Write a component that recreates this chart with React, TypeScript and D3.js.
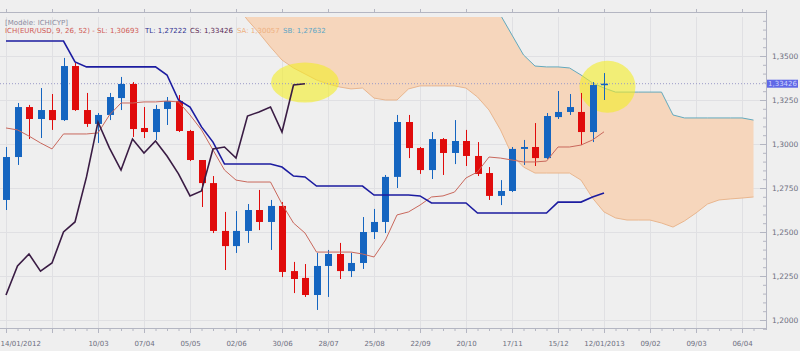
import { useEffect, useRef } from 'react';
import * as d3 from 'd3';

// Weekly EUR/USD candles, 14/01/2012 -> 12/01/2013
const opens = [1.2682, 1.2926, 1.3210, 1.3142, 1.3193, 1.3136, 1.3443, 1.3193, 1.3114, 1.3165, 1.3261, 1.3341, 1.3091, 1.3068, 1.3199, 1.3244, 1.3074, 1.2909, 1.2778, 1.2506, 1.2420, 1.2506, 1.2625, 1.2557, 1.2648, 1.2278, 1.2239, 1.2142, 1.2307, 1.2375, 1.2278, 1.2324, 1.2500, 1.2557, 1.2813, 1.3125, 1.2977, 1.2852, 1.3028, 1.2949, 1.3017, 1.2932, 1.2835, 1.2705, 1.2733, 1.2972, 1.2983, 1.2920, 1.3153, 1.3182, 1.3182, 1.3068, 1.3335];
const highs = [1.2983, 1.3233, 1.3222, 1.3318, 1.3284, 1.3489, 1.3460, 1.3290, 1.3176, 1.3290, 1.3381, 1.3352, 1.3210, 1.3222, 1.3267, 1.3278, 1.3080, 1.2909, 1.2818, 1.2614, 1.2619, 1.2659, 1.2739, 1.2682, 1.2670, 1.2330, 1.2318, 1.2381, 1.2398, 1.2438, 1.2381, 1.2585, 1.2631, 1.2824, 1.3165, 1.3165, 1.2983, 1.3068, 1.3034, 1.3136, 1.3080, 1.3011, 1.2869, 1.2795, 1.2983, 1.3023, 1.3119, 1.3176, 1.3301, 1.3284, 1.3290, 1.3352, 1.3403];
const lows = [1.2625, 1.2881, 1.3028, 1.3034, 1.3080, 1.3131, 1.3188, 1.3097, 1.3006, 1.3136, 1.3193, 1.3040, 1.3034, 1.3023, 1.3108, 1.3068, 1.2903, 1.2642, 1.2494, 1.2284, 1.2381, 1.2438, 1.2511, 1.2398, 1.2244, 1.2153, 1.2131, 1.2057, 1.2131, 1.2233, 1.2244, 1.2290, 1.2460, 1.2494, 1.2750, 1.2920, 1.2830, 1.2801, 1.2824, 1.2886, 1.2875, 1.2818, 1.2682, 1.2653, 1.2727, 1.2881, 1.2875, 1.2915, 1.3142, 1.3165, 1.2994, 1.3011, 1.3250];
const closes = [1.2926, 1.3210, 1.3142, 1.3193, 1.3136, 1.3443, 1.3193, 1.3114, 1.3165, 1.3267, 1.3341, 1.3085, 1.3068, 1.3199, 1.3244, 1.3074, 1.2909, 1.2778, 1.2506, 1.2420, 1.2506, 1.2625, 1.2557, 1.2648, 1.2273, 1.2233, 1.2142, 1.2307, 1.2375, 1.2278, 1.2324, 1.2500, 1.2557, 1.2813, 1.3125, 1.2977, 1.2852, 1.3028, 1.2949, 1.3017, 1.2932, 1.2830, 1.2705, 1.2733, 1.2972, 1.2983, 1.2920, 1.3159, 1.3182, 1.3210, 1.3068, 1.3335, 1.33426];

// Ichimoku lines
const tenkan = [1.3091, 1.3080, 1.3045, 1.3006, 1.2972, 1.3057, 1.3057, 1.3057, 1.3063, 1.3165, 1.3233, 1.3233, 1.3239, 1.3239, 1.3244, 1.3239, 1.3165, 1.3080, 1.2966, 1.2852, 1.2795, 1.2784, 1.2784, 1.2784, 1.2659, 1.2551, 1.2494, 1.2386, 1.2386, 1.2386, 1.2386, 1.2375, 1.2358, 1.2455, 1.2597, 1.2614, 1.2653, 1.2699, 1.2705, 1.2727, 1.2807, 1.2841, 1.2926, 1.2920, 1.2909, 1.2898, 1.2898, 1.2903, 1.2983, 1.2983, 1.2994, 1.3023, 1.30693];
const kijun = [1.3585, 1.3585, 1.3585, 1.3585, 1.3585, 1.3585, 1.3466, 1.3438, 1.3438, 1.3438, 1.3438, 1.3438, 1.3438, 1.3438, 1.3392, 1.3250, 1.3210, 1.3097, 1.3011, 1.2886, 1.2886, 1.2886, 1.2886, 1.2886, 1.2869, 1.2818, 1.2813, 1.2761, 1.2761, 1.2761, 1.2761, 1.2761, 1.2710, 1.2710, 1.2710, 1.2710, 1.2705, 1.2665, 1.2665, 1.2665, 1.2665, 1.2608, 1.2608, 1.2608, 1.2608, 1.2608, 1.2608, 1.2608, 1.2670, 1.2670, 1.2670, 1.2699, 1.27222];
const chikouShift = 26;

// cloud, from week 19 to week 65 (already shifted forward)
const cloudStart = 19;
const senkouA = [1.3847, 1.3790, 1.3705, 1.3631, 1.3551, 1.3477, 1.3432, 1.3398, 1.3364, 1.3341, 1.3324, 1.3313, 1.3318, 1.3261, 1.3250, 1.3250, 1.3313, 1.3330, 1.3330, 1.3330, 1.3330, 1.3318, 1.3267, 1.3193, 1.3080, 1.2938, 1.2869, 1.2835, 1.2835, 1.2835, 1.2835, 1.2795, 1.2693, 1.2614, 1.2580, 1.2568, 1.2568, 1.2568, 1.2551, 1.2528, 1.2563, 1.2608, 1.2659, 1.2682, 1.2688, 1.2693, 1.2699];
const senkouB = [1.3950, 1.3950, 1.3950, 1.3950, 1.3950, 1.3950, 1.3950, 1.3950, 1.3950, 1.3950, 1.3950, 1.3950, 1.3950, 1.3950, 1.3950, 1.3950, 1.3950, 1.3950, 1.3950, 1.3950, 1.3950, 1.3950, 1.3950, 1.3950, 1.3733, 1.3619, 1.3506, 1.3443, 1.3438, 1.3438, 1.3432, 1.3392, 1.3347, 1.3318, 1.3295, 1.3295, 1.3295, 1.3295, 1.3295, 1.3165, 1.3148, 1.3148, 1.3148, 1.3148, 1.3148, 1.3148, 1.3136];

const xTickLabels = ['14/01/2012', '', '10/03', '07/04', '05/05', '02/06', '30/06', '28/07', '25/08', '22/09', '20/10', '17/11', '15/12', '12/01/2013', '09/02', '09/03', '06/04'];
const yTicks = [1.2, 1.225, 1.25, 1.275, 1.3, 1.325, 1.35];
const lastPrice = 1.33426;

const legendRow = [
  { text: 'ICH(EUR/USD, 9, 26, 52) - SL: 1,30693', color: '#d05a55' },
  { text: 'TL: 1,27222', color: '#30308f' },
  { text: 'CS: 1,33426', color: '#5a2a55' },
  { text: 'SA: 1,30057', color: '#eeb080' },
  { text: 'SB: 1,27632', color: '#5aa5c5' },
];

const highlights = [
  { week: 26, price: 1.3350, rx: 34, ry: 20 },
  { week: 52.3, price: 1.3325, rx: 28, ry: 26 },
];

const weekDate = (i: number) => new Date(Date.UTC(2012, 0, 14) + i * 7 * 864e5);

const App = () => {
  const svgRef = useRef<SVGSVGElement>(null);

  useEffect(() => {
    if (!svgRef.current) return;
    const svg = d3.select(svgRef.current);
    svg.selectAll('*').remove();

    const plot = { left: 0, right: 766, top: 17, bottom: 328 };
    const font = 'DejaVu Sans, Verdana, sans-serif';

    const x = d3.scaleUtc().domain([weekDate(0), weekDate(52)]).range([6, 604]);
    const y = d3.scaleLinear().domain([1.2, 1.35]).range([320, 56]);
    const xi = (i: number) => x(weekDate(i));

    svg.append('rect').attr('width', 800).attr('height', 351).attr('fill', '#efefef');

    svg.append('defs').append('clipPath').attr('id', 'plot-clip')
      .append('rect')
      .attr('x', plot.left).attr('y', plot.top)
      .attr('width', plot.right - plot.left).attr('height', plot.bottom - plot.top);

    const tickDates = xTickLabels.map((_, k) => weekDate(k * 4));

    // grid
    const grid = svg.append('g').attr('stroke', '#e0e0e3').attr('stroke-width', 1);
    grid.selectAll('.vg').data(tickDates).enter().append('line')
      .attr('x1', d => Math.round(x(d)) + 0.5).attr('x2', d => Math.round(x(d)) + 0.5)
      .attr('y1', plot.top).attr('y2', plot.bottom);
    grid.selectAll('.hg').data(yTicks).enter().append('line')
      .attr('x1', plot.left).attr('x2', plot.right)
      .attr('y1', d => Math.round(y(d)) + 0.5).attr('y2', d => Math.round(y(d)) + 0.5);

    const g = svg.append('g').attr('clip-path', 'url(#plot-clip)');

    // cloud
    const cloudIdx = d3.range(senkouA.length);
    const area = d3.area<number>()
      .x(k => xi(cloudStart + k))
      .y0(k => y(senkouA[k]))
      .y1(k => y(senkouB[k]));
    g.append('path').datum(cloudIdx).attr('d', area).attr('fill', '#f6d6bc');
    g.append('path').datum(cloudIdx)
      .attr('d', d3.line<number>().x(k => xi(cloudStart + k)).y(k => y(senkouA[k])))
      .attr('fill', 'none').attr('stroke', '#e9b68e').attr('stroke-width', 1);
    g.append('path').datum(cloudIdx)
      .attr('d', d3.line<number>().x(k => xi(cloudStart + k)).y(k => y(senkouB[k])))
      .attr('fill', 'none').attr('stroke', '#62a9bd').attr('stroke-width', 1);

    // yellow highlights
    g.selectAll('.hl').data(highlights).enter().append('ellipse')
      .attr('cx', d => xi(d.week)).attr('cy', d => y(d.price))
      .attr('rx', d => d.rx).attr('ry', d => d.ry)
      .attr('fill', '#f3ec25').attr('opacity', 0.6);

    // last price dotted line
    g.append('line')
      .attr('x1', plot.left).attr('x2', plot.right)
      .attr('y1', y(lastPrice)).attr('y2', y(lastPrice))
      .attr('stroke', '#9a9ac8').attr('stroke-width', 1).attr('stroke-dasharray', '1,2');

    // candles
    const idx = d3.range(closes.length);
    const candles = g.selectAll('.candle').data(idx).enter().append('g');
    const col = (i: number) => (closes[i] >= opens[i] ? '#1565c0' : '#e00b0b');
    candles.append('line')
      .attr('x1', i => Math.round(xi(i)) + 0.5).attr('x2', i => Math.round(xi(i)) + 0.5)
      .attr('y1', i => y(highs[i])).attr('y2', i => y(lows[i]))
      .attr('stroke', col).attr('stroke-width', 1);
    candles.append('rect')
      .attr('x', i => Math.round(xi(i)) - 3)
      .attr('y', i => y(Math.max(opens[i], closes[i])))
      .attr('width', 7)
      .attr('height', i => Math.max(1.5, Math.abs(y(opens[i]) - y(closes[i]))))
      .attr('fill', col);

    // tenkan
    g.append('path').datum(idx)
      .attr('d', d3.line<number>().x(i => xi(i)).y(i => y(tenkan[i])))
      .attr('fill', 'none').attr('stroke', '#c9685c').attr('stroke-width', 1);
    // kijun
    g.append('path').datum(idx)
      .attr('d', d3.line<number>().x(i => xi(i)).y(i => y(kijun[i])))
      .attr('fill', 'none').attr('stroke', '#1c1ca0').attr('stroke-width', 1.6);
    // chikou: closes shifted back 26 weeks
    const chIdx = d3.range(chikouShift, closes.length);
    g.append('path').datum(chIdx)
      .attr('d', d3.line<number>().x(i => xi(i - chikouShift)).y(i => y(closes[i])))
      .attr('fill', 'none').attr('stroke', '#3a1c44').attr('stroke-width', 1.6);

    // axes frame
    const axisColor = '#b4b6c2';
    svg.append('line').attr('x1', 0).attr('x2', plot.right).attr('y1', 12.5).attr('y2', 12.5).attr('stroke', axisColor);
    svg.append('line').attr('x1', 0).attr('x2', plot.right).attr('y1', plot.bottom + 0.5).attr('y2', plot.bottom + 0.5).attr('stroke', axisColor);
    svg.append('line').attr('x1', plot.right + 0.5).attr('x2', plot.right + 0.5).attr('y1', 10).attr('y2', plot.bottom + 2).attr('stroke', axisColor);

    // bottom axis
    const weekly = d3.range(0, 66).map(weekDate);
    const minorX = svg.append('g').attr('transform', `translate(0,${plot.bottom})`)
      .call(d3.axisBottom(x).tickValues(weekly).tickSize(3).tickFormat(() => ''));
    const xAxis = svg.append('g').attr('transform', `translate(0,${plot.bottom})`)
      .call(d3.axisBottom(x).tickValues(tickDates).tickSize(5).tickPadding(8)
        .tickFormat((_, k) => xTickLabels[k]));
    const topAxis = svg.append('g').attr('transform', 'translate(0,12)')
      .call(d3.axisTop(x).tickValues(tickDates).tickSize(3).tickFormat(() => ''));

    // right axis
    const fmt = (d: d3.NumberValue) => d3.format('.4f')(d as number).replace('.', ',');
    const minorY = svg.append('g').attr('transform', `translate(${plot.right},0)`)
      .call(d3.axisRight(y).tickValues(d3.range(1.195, 1.3775, 0.005)).tickSize(-3).tickFormat(() => ''));
    const yAxis = svg.append('g').attr('transform', `translate(${plot.right},0)`)
      .call(d3.axisRight(y).tickValues(yTicks).tickSize(-6).tickPadding(6).tickFormat(fmt));

    [minorX, xAxis, topAxis, minorY, yAxis].forEach(a => {
      a.select('.domain').remove();
      a.selectAll('line').attr('stroke', axisColor);
      a.selectAll('text').attr('fill', '#6c6e80').style('font-family', font).style('font-size', '7px');
    });
    yAxis.selectAll('text').style('font-size', '7.5px');
    xAxis.selectAll<SVGTextElement, Date>('text')
      .filter((_, k) => k === 0)
      .attr('text-anchor', 'start').attr('x', -6);

    // last price tag
    const py = y(lastPrice);
    svg.append('rect').attr('x', plot.right + 1).attr('y', py - 4).attr('width', 31).attr('height', 8).attr('fill', '#6068e6');
    svg.append('text').attr('x', plot.right + 2).attr('y', py + 2.5)
      .attr('fill', '#cfd5ff').style('font-family', font).style('font-size', '7px')
      .text(d3.format('.5f')(lastPrice).replace('.', ','));

    // legend
    svg.append('text').attr('x', 5).attr('y', 25)
      .attr('fill', '#8a8aa0').style('font-family', font).style('font-size', '7px')
      .text('[Modèle: ICHICYP]');
    const legendX = [5, 145, 190, 237, 283];
    legendRow.forEach((item, k) => {
      svg.append('text').attr('x', legendX[k]).attr('y', 32.5)
        .attr('fill', item.color).style('font-family', font).style('font-size', '7px')
        .text(item.text);
    });
  }, []);

  return (
    <svg
      ref={svgRef}
      width={800}
      height={351}
      style={{ position: 'absolute', left: 0, top: 0, display: 'block' }}
    />
  );
};

export default App;
